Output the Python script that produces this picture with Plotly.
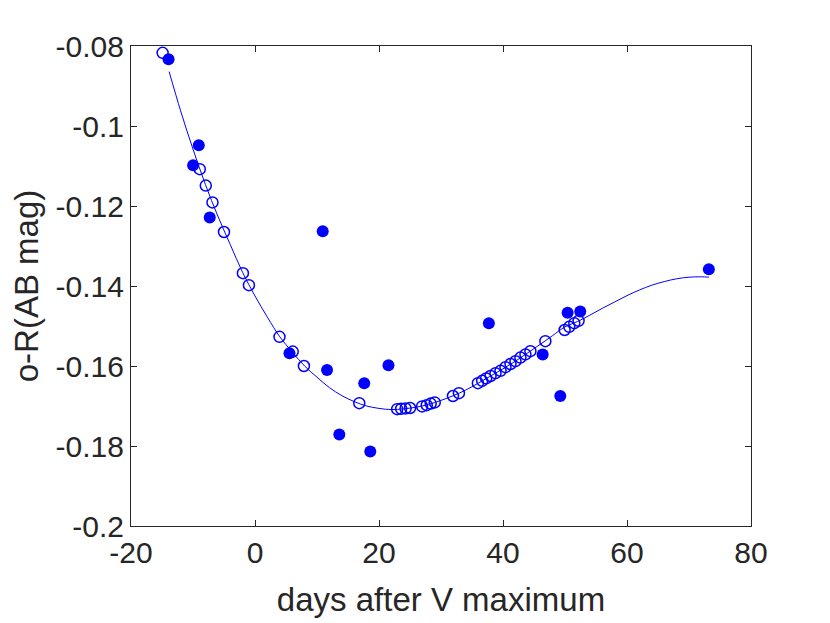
import plotly.graph_objects as go

# Open circles (data on the fit)
open_days = [-14.90, -8.91, -7.94, -6.86, -5.00, -1.95, -0.98, 3.95, 6.09, 7.89,
             16.82, 22.93, 23.57, 24.29, 25.02, 26.95, 27.70, 28.34, 28.99,
             31.93, 32.89, 35.95, 36.64, 37.28, 37.99, 38.79, 39.60, 40.40,
             41.21, 42.01, 42.81, 43.62, 44.42, 46.83, 49.94, 50.69, 51.50, 52.19]
open_color = [-0.0817, -0.1108, -0.1149, -0.1191, -0.1265, -0.1368, -0.1398, -0.1527,
              -0.1564, -0.1600, -0.1693, -0.1708, -0.1707, -0.1706, -0.1705, -0.1701,
              -0.1698, -0.1694, -0.1691, -0.1675, -0.1668, -0.1643, -0.1637, -0.1631,
              -0.1625, -0.1618, -0.1612, -0.1603, -0.1595, -0.1588, -0.1579, -0.1571,
              -0.1563, -0.1538, -0.1510, -0.1502, -0.1493, -0.1487]

# Filled circles (observations)
filled_days = [-13.94, -9.07, -9.98, -7.30, 5.56, 10.92, 11.62, 13.60, 17.62, 18.59,
               21.53, 37.72, 46.40, 49.24, 50.42, 52.46, 73.20]
filled_color = [-0.0833, -0.1048, -0.1098, -0.1229, -0.1568, -0.1263, -0.1610, -0.1771,
                -0.1643, -0.1814, -0.1598, -0.1493, -0.1571, -0.1675, -0.1467, -0.1464,
                -0.1358]

# Fitted curve
fit_days = [-13.85, -12, -10, -8, -6, -4, -2, 0, 2, 4, 6, 8, 10, 12, 14, 16, 18, 20,
            22, 24, 26, 28, 30, 32, 34, 36, 38, 40, 42, 44, 46, 48, 50, 52, 54, 56,
            58, 60, 62, 64, 66, 68, 70, 72, 73.2]
fit_color = [-0.0864, -0.0962, -0.1058, -0.1146, -0.1225, -0.1296, -0.1366, -0.1425,
             -0.1478, -0.1527, -0.1565, -0.1600, -0.1628, -0.1654, -0.1674, -0.1689,
             -0.1700, -0.1706, -0.1709, -0.1707, -0.1703, -0.1696, -0.1686, -0.1674,
             -0.1660, -0.1643, -0.1625, -0.1607, -0.1588, -0.1567, -0.1546, -0.1524,
             -0.1502, -0.1489, -0.1473, -0.1456, -0.1440, -0.1424, -0.1410, -0.1398,
             -0.1389, -0.1382, -0.1378, -0.1377, -0.1378]

x_ticks = [-20, 0, 20, 40, 60, 80]
y_ticks = [-0.2, -0.18, -0.16, -0.14, -0.12, -0.1, -0.08]
y_tick_text = ["-0.2", "-0.18", "-0.16", "-0.14", "-0.12", "-0.1", "-0.08"]

BLUE = "#0000FF"
AX = "#262626"
FONT = "Liberation Sans, Arial, sans-serif"

fig = go.Figure()
fig.add_trace(go.Scatter(x=fit_days, y=fit_color, mode="lines", line_shape="spline",
                         line=dict(color=BLUE, width=1), showlegend=False,
                         hoverinfo="skip"))
fig.add_trace(go.Scatter(x=open_days, y=open_color, mode="markers", showlegend=False,
                         marker=dict(symbol="circle-open", size=11, color=BLUE,
                                     line=dict(width=1.5, color=BLUE))))
fig.add_trace(go.Scatter(x=filled_days, y=filled_color, mode="markers", showlegend=False,
                         marker=dict(symbol="circle", size=12, color=BLUE,
                                     line=dict(width=0))))

axis_common = dict(showline=True, linecolor=AX, linewidth=1, mirror="ticks",
                   ticks="inside", ticklen=6, tickwidth=1, tickcolor=AX,
                   showgrid=False, zeroline=False,
                   tickfont=dict(family=FONT, size=30, color=AX))

fig.update_layout(
    width=830, height=623,
    margin=dict(l=123, r=86.5, t=37.5, b=105),
    paper_bgcolor="white", plot_bgcolor="white",
    font=dict(family=FONT, color=AX),
    xaxis=dict(range=[-20, 80], tickvals=x_ticks, ticktext=[str(v) for v in x_ticks],
               title=dict(text="days after V maximum",
                          font=dict(family=FONT, size=33, color=AX), standoff=19),
               **axis_common),
    yaxis=dict(range=[-0.2, -0.08], tickvals=y_ticks, ticktext=y_tick_text,
               title=dict(text="o-R(AB mag)",
                          font=dict(family=FONT, size=33, color=AX), standoff=8),
               **axis_common),
)

fig.write_html("out.html")
